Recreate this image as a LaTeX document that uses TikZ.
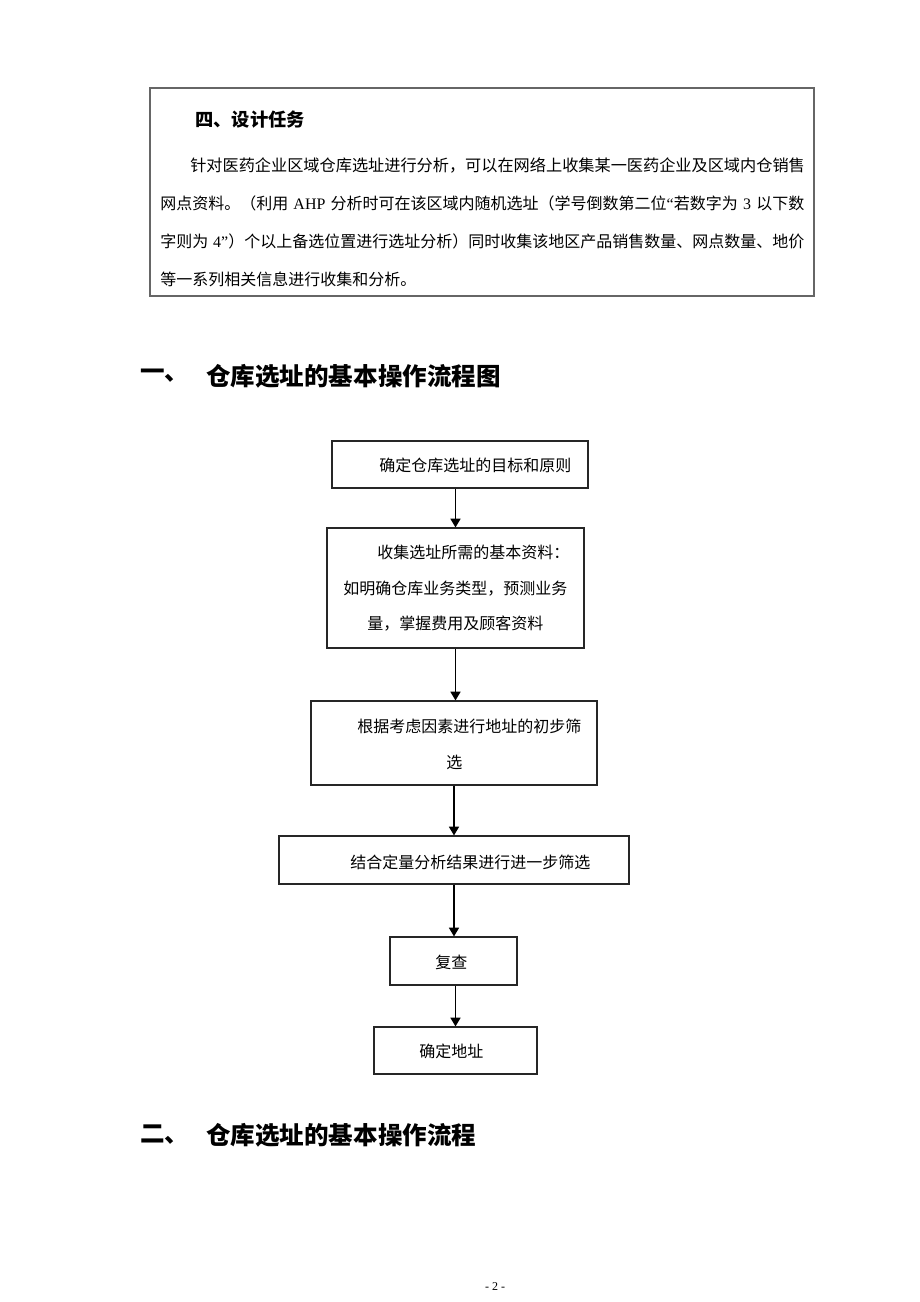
\documentclass[tikz,border=0pt]{standalone}
\usepackage{fontspec}
\setmainfont{Noto Sans CJK SC}
\newfontfamily\lat{Liberation Serif}
\usetikzlibrary{arrows.meta}
\begin{document}
\begin{tikzpicture}[x=0.75pt,y=-0.75pt,
  box/.style={draw=black!85, line width=0.9pt, inner sep=0pt, rectangle},
  txt/.style={anchor=west, inner sep=0pt, font=\fontsize{12}{14}\selectfont},
  head/.style={anchor=west, inner sep=0pt, font=\fontsize{18.4}{22}\selectfont\bfseries},
  arr/.style={-{Triangle[length=6.5pt,width=7.5pt]}, line width=1pt}]
\useasboundingbox[fill=white] (0,0) rectangle (920,1302);

% task box
\node[draw=black!60, line width=0.8pt, inner sep=0pt, minimum width=498pt, minimum height=156pt] (task) at (482,192) {};
\node[anchor=west, inner sep=0pt, font=\fontsize{13.7}{16}\selectfont\bfseries] (title) at (195,120) {四、设计任务};
\node[anchor=west, inner sep=0pt, font=\fontsize{12.13}{14}\selectfont] (l1) at (190,165) {针对医药企业区域仓库选址进行分析，可以在网络上收集某一医药企业及区域内仓销售};
\node[txt] (l2) at (160,203) {\makebox[483pt][s]{网点资料。（利用 {\lat AHP} 分析时可在该区域内随机选址（学号倒数第二位{\lat “}若数字为 {\lat 3} 以下数}};
\node[txt] (l3) at (160,241) {\makebox[483pt][s]{字则为 {\lat 4”}）个以上备选位置进行选址分析）同时收集该地区产品销售数量、网点数量、地价}};
\node[txt] (l4) at (160,279) {等一系列相关信息进行收集和分析。};

% heading 1
\node[head] (h1a) at (140,376) {一、};
\node[head] (h1b) at (206,376) {仓库选址的基本操作流程图};

% flowchart boxes
\node[box, minimum width=192pt, minimum height=35.25pt] (b1) at (460,464.5) {};
\node[box, minimum width=192.75pt, minimum height=90pt] (b2) at (455.5,588) {};
\node[box, minimum width=214.5pt, minimum height=63pt] (b3) at (454,743) {};
\node[box, minimum width=262.5pt, minimum height=36pt] (b4) at (454,860) {};
\node[box, minimum width=95.25pt, minimum height=36pt] (b5) at (453.5,961) {};
\node[box, minimum width=122.25pt, minimum height=35.25pt] (b6) at (455.5,1050.5) {};

% flowchart texts
\node[txt] (t1) at (379,465) {确定仓库选址的目标和原则};
\node[txt] (t2a) at (377,552) {收集选址所需的基本资料：};
\node[txt] (t2b) at (343,589) {如明确仓库业务类型，预测业务};
\node[txt] (t2c) at (367,624) {量，掌握费用及顾客资料};
\node[txt] (t3a) at (357,726) {根据考虑因素进行地址的初步筛};
\node[txt] (t3b) at (446,762) {选};
\node[txt] (t4) at (350,862) {结合定量分析结果进行进一步筛选};
\node[txt] (t5) at (435,962) {复查};
\node[txt] (t6) at (419,1051) {确定地址};

% arrows
\draw[arr] (b1.south -| b2.north) -- (b2.north);
\draw[arr] (b2.south) -- (b2.south |- b3.north);
\draw[arr] (b3.south) -- (b4.north);
\draw[arr] (b4.south) -- (b4.south |- b5.north);
\draw[arr] (b5.south -| b6.north) -- (b6.north);

% heading 2
\node[head] (h2a) at (140,1135) {二、};
\node[head] (h2b) at (206,1135) {仓库选址的基本操作流程};

% page number
\node[inner sep=0pt, font=\lat\fontsize{9}{10}\selectfont] (pg) at (495,1287) {- 2 -};
\end{tikzpicture}
\end{document}
